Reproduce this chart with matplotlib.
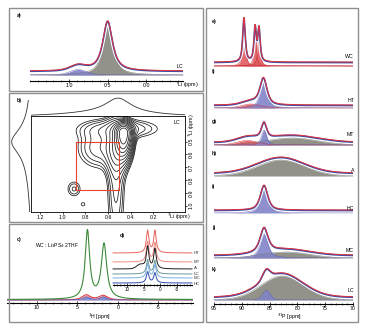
import numpy as np
import matplotlib.pyplot as plt
from matplotlib.patches import Rectangle
from matplotlib.ticker import MultipleLocator

plt.rcParams['font.family'] = ['Liberation Sans', 'DejaVu Sans']
plt.rcParams['font.size'] = 3.8
plt.rcParams['axes.linewidth'] = 0.6

W, H = 367, 328

# 1D peaks: (centre ppm, height, fwhm ppm, lorentzian fraction, fill)
li_lc_peaks = [(0.50, 50, 0.15, 0.9, 'grey'), (0.88, 5.5, 0.25, 0.4, 'blue')]

# 2D 7Li exchange map (LC): projections and peaks
li_proj_f2 = [(0.51, 15, 0.28, 1.0), (0.60, 3, 0.80, 0.0)]
li_proj_f1 = [(0.50, 17, 0.24, 1.0), (0.60, 2.5, 0.60, 0.0)]
# main diagonal peak: (f2, f1, sigma f2, sigma f1 above, sigma f1 below, amplitude)
li_main_peak = (0.46, 0.43, 0.04, 0.04, 0.10, 1.0)
# other 2D features: (f2, f1, sigma f2, sigma f1, amplitude)
li_2d_peaks = [(0.50, 0.40, 0.22, 0.05, 0.08),
               (0.53, 0.85, 0.05, 0.30, 0.07),
               (0.68, 0.55, 0.12, 0.10, 0.08),
               (0.52, 0.55, 0.06, 0.12, 0.15),
               (0.90, 0.87, 0.045, 0.045, 0.05),
               (0.82, 0.99, 0.025, 0.02, 0.03)]
cross_f2 = [0.88, 0.50]
cross_f1 = [0.50, 0.88]

# 1H spectra
h_wc_peaks = [(3.75, 68, 0.66, 1.0), (1.70, 55, 0.80, 1.0)]
h_red_peaks = [(3.9, 5, 1.2, 0.8), (1.8, 4.5, 1.3, 0.8)]
h_blue_peaks = [(3.9, 3, 1.0, 0.6), (1.8, 3, 1.0, 0.6)]

d_names = ['HT', 'MT', 'A', 'LC', 'MC', 'HC']
d_offsets = [32, 23, 16, 11, 7, 2]
d_h1 = [22, 20, 22, 14, 14, 11]
d_h2 = [22, 19, 20, 13, 13, 10]
d_shoulder = [0, 0, 4, 0, 0, 0]
d_colors = ['#e8655c', '#ef8c84', '#1e1e1e', '#6e9898', '#79aee0', '#2f4fae']

# 31P spectra
p_names = ['WC', 'HT', 'MT', 'A', 'HC', 'MC', 'LC']
p_letters = ['e)', 'f)', 'g)', 'h)', 'i)', 'j)', 'k)']
wc_peaks = [(89.6, 44, 0.55, 0.8, 'red'), (87.6, 34, 0.5, 0.8, 'red'), (86.9, 33, 0.5, 0.8, 'red')]
ht_peaks = [(88.3, 4, 4.0, 0.3, 'red'), (86.1, 26, 1.5, 0.7, 'blue')]
mt_peaks = [(81.0, 7, 11.0, 0.0, 'grey'), (89.0, 4.5, 4.5, 0.2, 'red'), (86.0, 15, 1.1, 0.6, 'blue')]
a_peaks = [(83.0, 16, 10.0, 0.1, 'grey')]
hc_peaks = [(86.0, 25, 1.6, 0.7, 'blue')]
mc_peaks = [(82.0, 6, 10.0, 0.0, 'grey'), (86.0, 24, 1.7, 0.7, 'blue')]
lc_peaks = [(82.8, 24, 9.0, 0.1, 'grey'), (85.6, 10, 1.6, 0.3, 'blue')]
p_peaks = [wc_peaks, ht_peaks, mt_peaks, a_peaks, hc_peaks, mc_peaks, lc_peaks]

FILL = {'grey': '#86867f', 'blue': '#8284c8', 'red': '#e05a60'}
EDGE = {'grey': '#6a6a64', 'blue': '#5a5cb0', 'red': '#c8262e'}
LINE_BLUE = '#3b4da6'
LINE_RED = '#e2323c'


def px_rect(x0, y0, x1, y1):
    return [x0 / W, 1 - y1 / H, (x1 - x0) / W, (y1 - y0) / H]


def ftext(x, y, s, **kw):
    kw.setdefault('va', 'center')
    fig.text(x / W, 1 - y / H, s, **kw)


def shape(x, c, h, w, eta):
    g = np.exp(-4 * np.log(2) * ((x - c) / w) ** 2)
    l = 1 / (1 + 4 * ((x - c) / w) ** 2)
    return h * (eta * l + (1 - eta) * g)


def spectrum(ax, x, peaks, offset):
    total = np.zeros_like(x)
    for c, h, w, eta, col in peaks:
        y = shape(x, c, h, w, eta)
        total += y
        ax.fill_between(x, 0, y, color=FILL[col], lw=0, alpha=0.9)
        ax.plot(x, y, color=EDGE[col], lw=0.3)
    s = total + offset
    ax.plot(x, s, color='white', lw=3)
    ax.plot(x, s - 0.6, color=LINE_BLUE, lw=1.2)
    ax.plot(x, s, color=LINE_RED, lw=0.7)


def bare(ax):
    for sp in ax.spines.values():
        sp.set_visible(False)
    ax.set_xticks([])
    ax.set_yticks([])
    ax.patch.set_alpha(0)


def bottom_axis(ax, major, minor, labels):
    bare(ax)
    ax.spines['bottom'].set_visible(True)
    ax.spines['bottom'].set_linewidth(0.8)
    ax.set_xticks(major)
    ax.set_xticklabels(labels)
    ax.xaxis.set_minor_locator(MultipleLocator(minor))
    ax.tick_params(axis='x', which='major', direction='inout', length=2.2, width=0.5, pad=0.6)
    ax.tick_params(axis='x', which='minor', direction='inout', length=1.4, width=0.4)


fig = plt.figure(figsize=(3.67, 3.28), dpi=100)

# panel boxes
for x0, y0, x1, y1 in [(9, 8, 203, 91), (9, 93, 203, 222), (9, 224, 203, 322), (206, 8, 358, 322)]:
    fig.add_artist(Rectangle((x0 / W, 1 - y1 / H), (x1 - x0) / W, (y1 - y0) / H,
                             transform=fig.transFigure, fill=False, ec='#8f8f8f', lw=1.0))

# ---- a) 7Li LC ----
ax_a = fig.add_axes(px_rect(30, 14, 183, 81))
x = np.linspace(-0.47, 1.5, 800)
spectrum(ax_a, x, li_lc_peaks, 4)
ax_a.set_xlim(1.5, -0.47)
ax_a.set_ylim(-6, 61)
bottom_axis(ax_a, [1.0, 0.5, 0.0], 0.1, ['1.0', '0.5', '0.0'])
ftext(17, 15, 'a)', weight='bold')
ftext(180, 66, 'LC', ha='center')
ftext(175, 85, '$^{7}$Li (ppm)')

# ---- b) 2D 7Li exchange ----
ax_b = fig.add_axes(px_rect(31, 116, 185, 212))
f2 = np.linspace(-0.08, 1.28, 320)
f1 = np.linspace(0.3, 1.05, 260)
X, Y = np.meshgrid(f2, f1)
c2, c1, s2, s_up, s_dn, a = li_main_peak
s1 = np.where(Y < c1, s_up, s_dn)
Z = a * np.exp(-((X - c2) ** 2) / (2 * s2 ** 2) - ((Y - c1) ** 2) / (2 * s1 ** 2))
for c2, c1, s2, s1, a in li_2d_peaks:
    Z += a * np.exp(-((X - c2) ** 2) / (2 * s2 ** 2) - ((Y - c1) ** 2) / (2 * s1 ** 2))
ax_b.contour(X, Y, Z, levels=np.geomspace(0.025, 0.8, 12), colors='#1a1a1a', linewidths=0.55)
ax_b.plot([cross_f2[0], cross_f2[1], cross_f2[1], cross_f2[0], cross_f2[0]],
          [cross_f1[0], cross_f1[0], cross_f1[1], cross_f1[1], cross_f1[0]],
          color='#e8412c', lw=0.8)
ax_b.set_xlim(1.28, -0.08)
ax_b.set_ylim(1.05, 0.3)
ax_b.set_xticks([1.2, 1.0, 0.8, 0.6, 0.4, 0.2])
ax_b.set_xticklabels(['1.2', '1.0', '0.8', '0.6', '0.4', '0.2'])
ax_b.yaxis.tick_right()
ax_b.set_yticks([0.5, 0.6, 0.7, 0.8, 0.9, 1.0])
ax_b.set_yticklabels(['0.5', '0.6', '0.7', '0.8', '0.9', '1.0'], rotation=90, va='center')
ax_b.tick_params(direction='out', length=1.5, width=0.5, pad=1)
ftext(17, 100, 'b)', weight='bold')
ftext(177, 122, 'LC', ha='center')
ftext(167, 217, '$^{7}$Li (ppm)')
ftext(192, 125, '$^{7}$Li (ppm)', ha='center', rotation=90)

ax_bt = fig.add_axes(px_rect(31, 93, 185, 116))
prof = sum(shape(f2, c, h, w, e) for c, h, w, e in li_proj_f2)
ax_bt.plot(f2, prof, color='#333333', lw=0.6)
ax_bt.set_xlim(1.28, -0.08)
ax_bt.set_ylim(0, 23)
bare(ax_bt)

ax_bl = fig.add_axes(px_rect(9, 100, 31, 212))
f1l = np.linspace(0.175, 1.05, 300)
prof = sum(shape(f1l, c, h, w, e) for c, h, w, e in li_proj_f1)
ax_bl.plot(prof, f1l, color='#333333', lw=0.6)
ax_bl.set_xlim(22, 0)
ax_bl.set_ylim(1.05, 0.175)
bare(ax_bl)

# ---- c) 1H ----
ax_c = fig.add_axes(px_rect(7, 226, 193, 303))
xh = np.linspace(-9.3, 13.7, 1200)
green = sum(shape(xh, c, h, w, e) for c, h, w, e in h_wc_peaks)
red = sum(shape(xh, c, h, w, e) for c, h, w, e in h_red_peaks)
blue = sum(shape(xh, c, h, w, e) for c, h, w, e in h_blue_peaks)
ax_c.fill_between(xh, 0, red, color='#f2a0a0', lw=0)
ax_c.fill_between(xh, 0, blue, color='#7d8fd6', lw=0)
ax_c.plot(xh, red, color='#e2323c', lw=0.7)
ax_c.plot(xh, blue, color='#3b5bc0', lw=0.5)
ax_c.plot(xh, green + 0.5, color='#3a8a3a', lw=0.8)
ax_c.set_xlim(13.7, -9.3)
ax_c.set_ylim(-3, 74)
bottom_axis(ax_c, [10, 5, 0, -5], 1, ['10', '5', '0', '-5'])
ftext(17, 240, 'c)', weight='bold')
ftext(35, 246, 'WC : Li$_3$PS$_4$\u00b72THF', fontsize=3.6)
ftext(99, 316.5, '$^{1}$H [ppm]', ha='center')

# ---- d) inset stacked 1H ----
ax_d = fig.add_axes(px_rect(113, 228, 192, 285))
xd = np.linspace(-9.5, 14.2, 900)
for name, off, h1, h2, sh, col in zip(d_names, d_offsets, d_h1, d_h2, d_shoulder, d_colors):
    tr = shape(xd, 3.8, h1, 0.9, 1.0) + shape(xd, 1.6, h2, 0.9, 1.0) + shape(xd, 6.0, sh, 2.5, 0.0)
    ax_d.plot(xd, tr + off, color=col, lw=0.7, clip_on=False)
ax_d.set_xlim(14.2, -9.5)
ax_d.set_ylim(0, 57)
bottom_axis(ax_d, [10, 5, 0, -5], 1, ['10', '5', '0', '-5'])
ax_d.tick_params(labelsize=3.3)
ftext(120, 235, 'd)', weight='bold')
for name, yy in zip(d_names, [253, 262, 268, 274, 278, 284]):
    ftext(194, yy, name, fontsize=3.2, color='#333333')

# ---- e)-k) 31P ----
xp = np.linspace(70, 95, 1200)
p_base = [66, 108, 145, 176, 213, 258, 300]
p_offset = [4, 3, 3, 3, 3, 3, 3]
p_letter_y = [21, 72, 122, 154, 187, 228, 270]
p_name_y = [57, 100, 135, 170, 208, 251, 291]
for i, peaks in enumerate(p_peaks):
    b = p_base[i]
    if i == len(p_peaks) - 1:
        ax = fig.add_axes(px_rect(214, b - 55, 353, 304))
        ax.set_ylim(-4, 55)
    else:
        ax = fig.add_axes(px_rect(214, b - 55, 353, b + 3))
        ax.set_ylim(-3, 55)
    spectrum(ax, xp, peaks, p_offset[i])
    ax.set_xlim(95, 70)
    if i == len(p_peaks) - 1:
        bottom_axis(ax, [95, 90, 85, 80, 75, 70], 1, ['95', '90', '85', '80', '75', '70'])
    else:
        bare(ax)
    ftext(212, p_letter_y[i], p_letters[i], weight='bold')
    ftext(354, p_name_y[i], p_names[i], ha='right')
ftext(289, 316.5, '$^{31}$P [ppm]', ha='center')

fig.savefig('out.png', dpi=100)
